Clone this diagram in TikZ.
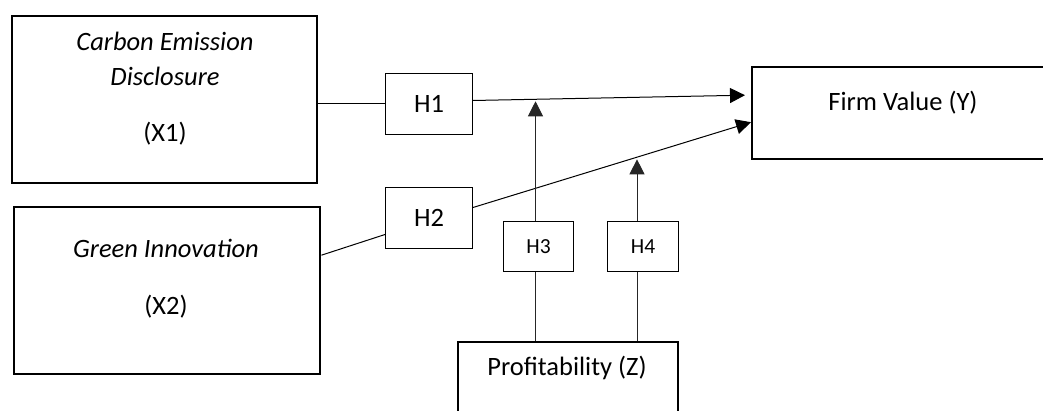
\documentclass[tikz,border=0pt]{standalone}
\usepackage{fontspec}
\setmainfont{Carlito}
\usetikzlibrary{arrows.meta,calc}

\begin{document}
\begin{tikzpicture}[x=1pt, y=-1pt,
    bigbox/.style={rectangle, draw, line width=2.4pt, anchor=north west, inner sep=0pt},
    hbox/.style={rectangle, draw, line width=1pt, anchor=north west, inner sep=0pt,
            font=\fontsize{26.5}{32}\selectfont},
    smallh/.style={hbox, font=\fontsize{21.5}{26}\selectfont},
    txt/.style={anchor=base, inner sep=0pt, font=\fontsize{26.5}{32}\selectfont},
    link/.style={line width=1pt},
    >={Triangle[length=15pt,width=15pt]}]

  \useasboundingbox (0,0) rectangle (1043,411);
  \clip (0,0) rectangle (1043,411);

  % outer boxes
  \node[bigbox, minimum width=305pt, minimum height=167pt] (x1) at (11,15) {};
  \node[bigbox, minimum width=306pt, minimum height=167pt] (x2) at (13,206) {};
  \node[bigbox, minimum width=310pt, minimum height=92pt] (y) at (751,66) {};
  \node[bigbox, minimum width=220pt, minimum height=100pt] (z) at (457,341) {};

  \node[txt] (x1a) at (165,51) {\itshape Carbon Emission};
  \node[txt] (x1b) at (165,86) {\itshape Disclosure};
  \node[txt] (x1c) at (165,142) {(X1)};
  \node[txt] (x2a) at (166,258) {\itshape Green Innovation};
  \node[txt] (x2b) at (166,314) {(X2)};
  \node[txt] (ya) at (903,111) {Firm Value (Y)};
  \node[txt] (za) at (567,375) {Profitability (Z)};

  % hypothesis boxes
  \node[hbox, minimum width=87pt, minimum height=61pt] (h1) at (385,73) {H1};
  \node[hbox, minimum width=87pt, minimum height=61pt] (h2) at (385,187) {H2};
  \node[smallh, minimum width=70pt, minimum height=50pt] (h3) at (503,221) {H3};
  \node[smallh, minimum width=71pt, minimum height=50pt] (h4) at (607,221) {H4};

  % connectors
  \draw[link] (x1.east |- h1.west) -- (h1.west);
  \draw[link] ([yshift=35.5pt]x2.east) -- ([yshift=-16.5pt]h2.west);
  \draw[link,->] ([yshift=3.5pt]h1.east) -- coordinate[pos=0.231] (m1)
        ([yshift=18pt,xshift=-6pt]y.west);
  \draw[link,->] ([yshift=10.5pt]h2.east) -- coordinate[pos=0.588] (m2)
        ([yshift=-9pt]y.west);

  \draw[link,black!85,->,shorten >=2pt] ([xshift=-3pt]h3.north) -- ([xshift=-3pt]h3.north |- m1);
  \draw[link,black!85,->,shorten >=2pt] ([xshift=-6pt]h4.north) -- ([xshift=-6pt]h4.north |- m2);
  \draw[link,black!85] ([xshift=-3pt]h3.south) -- ([xshift=-3pt]h3.south |- z.north);
  \draw[link,black!85] ([xshift=-6pt]h4.south) -- ([xshift=-6pt]h4.south |- z.north);
\end{tikzpicture}
\end{document}
